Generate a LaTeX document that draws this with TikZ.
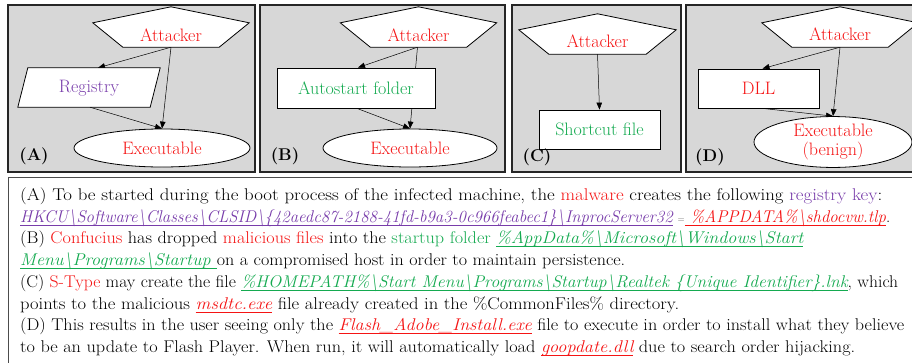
\documentclass[tikz,border=0pt]{standalone}
\usepackage{graphicx}
\usetikzlibrary{shapes.geometric,arrows.meta,calc}
\definecolor{myred}{RGB}{245,20,20}
\definecolor{mypurple}{RGB}{120,60,170}
\definecolor{mygreen}{RGB}{20,170,80}
\definecolor{panelgray}{RGB}{215,215,215}
\pgfdeclarelayer{bg}\pgfdeclarelayer{edges}\pgfsetlayers{bg,edges,main}
\newcommand{\tline}[2]{\resizebox{#1pt}{\height}{#2}}
\newcommand{\bsl}{\textbackslash}
\newsavebox{\myulbox}
\newcommand{\myul}[1]{\leavevmode\sbox{\myulbox}{#1}\rlap{\rule[-4pt]{\wd\myulbox}{0.9pt}}\usebox{\myulbox}}
\newcommand{\pentdraw}[1]{\draw[fill=white,line width=0.8pt] (#1.north) -- ([yshift=-16pt]#1.north east) -- ([xshift=-30pt]#1.south east) -- ([xshift=30pt]#1.south west) -- ([yshift=-16pt]#1.north west) -- cycle;}
\begin{document}
\begin{tikzpicture}[x=1pt,y=-1pt,
  lbl/.style={inner sep=0pt,font=\fontsize{18}{21}\selectfont},
  pentbox/.style={draw=none,inner sep=0pt,minimum width=156,minimum height=40},
  boxnode/.style={draw,fill=white,line width=0.8pt,inner sep=0pt,font=\fontsize{18}{21}\selectfont},
  ellnode/.style={ellipse,draw,fill=white,line width=0.8pt,inner sep=0pt,font=\fontsize{18}{21}\selectfont,align=center},
  conn/.style={line width=0.5pt,-{Triangle[length=7pt,width=5.5pt]}},
  panel/.style={draw=black!85,line width=1.1pt,fill=panelgray},
  plabel/.style={inner sep=0pt,font=\fontsize{17}{21}\selectfont\bfseries},
  txt/.style={anchor=base west,inner sep=0pt,font=\fontsize{17}{21}\selectfont}]
\clip (0,0) rectangle (912,362);
\begin{pgfonlayer}{bg}
  \fill[white] (0,0) rectangle (912,362);
  \draw[panel] (8,5) rectangle (255,172);
  \draw[panel] (260,5) rectangle (505,172);
  \draw[panel] (512,5) rectangle (681,172);
  \draw[panel] (686,5) rectangle (930,172);
  \draw[line width=1pt,draw=black!70] (8,177) rectangle (930,380);
\end{pgfonlayer}

% Panel A
\node[pentbox] (atkA) at (171,27) {};
\pentdraw{atkA}
\node[lbl,text=myred] (atkAt) at (171,35) {Attacker};
\node[draw=none,inner sep=0pt,minimum width=132,minimum height=39] (reg) at (89,87.5) {};
\draw[fill=white,line width=0.8pt] ([xshift=-5pt]reg.south west) -- ([xshift=5pt]reg.north west) -- ([xshift=5pt]reg.north east) -- ([xshift=-5pt]reg.south east) -- cycle;
\node[lbl,text=mypurple] (regt) at (89,88) {Registry};
\node[ellnode,text=myred,minimum width=176,minimum height=38] (exeA) at (162,148) {Executable};
\node[plabel] (labA) at (34,156) {(A)};

% Panel B
\node[pentbox] (atkB) at (418.5,27) {};
\pentdraw{atkB}
\node[lbl,text=myred] (atkBt) at (418.5,35) {Attacker};
\node[boxnode,text=mygreen,minimum width=158,minimum height=40] (auto) at (356,88) {Autostart folder};
\node[ellnode,text=myred,minimum width=174,minimum height=38] (exeB) at (410,148) {Executable};
\node[plabel] (labB) at (285,156) {(B)};

% Panel C
\node[pentbox,minimum width=157] (atkC) at (597.5,34) {};
\pentdraw{atkC}
\node[lbl,text=myred] (atkCt) at (597.5,41) {Attacker};
\node[boxnode,text=mygreen,minimum width=121,minimum height=39] (sc) at (599.5,129.5) {Shortcut file};

% Panel D
\node[pentbox] (atkD) at (840,27) {};
\pentdraw{atkD}
\node[lbl,text=myred] (atkDt) at (840,34) {Attacker};
\node[boxnode,text=myred,minimum width=121,minimum height=39] (dll) at (758.5,88.5) {DLL};
\node[ellnode,text=myred,minimum width=158,minimum height=47] (exeD) at (833,142) {Executable\\[-2pt](benign)};

\node[plabel] (labC) at (537,157) {(C)};
\node[plabel] (labD) at (710,157) {(D)};

\begin{pgfonlayer}{edges}
  \draw[conn] (atkA.south) -- ([xshift=9pt]reg.north);
  \draw[conn] (atkA.south) -- (exeA.north);
  \draw[conn] ([xshift=1pt]reg.south) -- (exeA.north);
  \draw[conn] ([xshift=-1pt]atkB.south) -- ([xshift=2pt]auto.north);
  \draw[conn] ([xshift=-1pt]atkB.south) -- (exeB.north);
  \draw[conn] ([xshift=1pt]auto.south) -- (exeB.north);
  \draw[conn] (atkC.south) -- (sc.north);
  \draw[conn] (atkD.south) -- ([xshift=4pt]dll.north);
  \draw[conn] (atkD.south) -- (exeD.north);
  \draw[conn] ([xshift=4pt]dll.south) -- (exeD.north);
\end{pgfonlayer}

% Text
\node[txt] (l1) at (20,200) {\tline{862}{(A) To be started during the boot process of the infected machine, the \textcolor{myred}{malware} creates the following \textcolor{mypurple}{registry key}:}};
\node[txt] (l2) at (20,222) {\tline{870}{\textcolor{mypurple}{\itshape\myul{HKCU\bsl Software\bsl Classes\bsl CLSID\bsl\{42aedc87-2188-41fd-b9a3-0c966feabec1\}\bsl InprocServer32}} {\color{black!60}\small =}\textcolor{myred}{\itshape\myul{\ \%APPDATA\%\bsl shdocvw.tlp}}.}};
\node[txt] (l3) at (20,243) {\tline{783}{(B) \textcolor{myred}{Confucius} has dropped \textcolor{myred}{malicious files} into the \textcolor{mygreen}{startup folder} \textcolor{mygreen}{\itshape\myul{\%AppData\%\bsl Microsoft\bsl Windows\bsl Start}}}};
\node[txt] (l4) at (20,265) {\tline{605}{\textcolor{mygreen}{\itshape\myul{Menu\bsl Programs\bsl Startup\ }}on a compromised host in order to maintain persistence.}};
\node[txt] (l5) at (20,287) {\tline{878}{(C) \textcolor{myred}{S-Type} may create the file \textcolor{mygreen}{\itshape\myul{\%HOMEPATH\%\bsl Start Menu\bsl Programs\bsl Startup\bsl Realtek \{Unique Identifier\}.lnk}}, which}};
\node[txt] (l6) at (20,309) {\tline{659}{points to the malicious \textcolor{myred}{\itshape\myul{msdtc.exe}} file already created in the \%CommonFiles\% directory.}};
\node[txt] (l7) at (20,330) {\tline{884}{(D) This results in the user seeing only the \textcolor{myred}{\itshape\myul{Flash\_Adobe\_Install.exe}} file to execute in order to install what they believe}};
\node[txt] (l8) at (20,352) {\tline{835}{to be an update to Flash Player. When run, it will automatically load \textcolor{myred}{\itshape\myul{goopdate.dll}} due to search order hijacking.}};
\end{tikzpicture}
\end{document}
